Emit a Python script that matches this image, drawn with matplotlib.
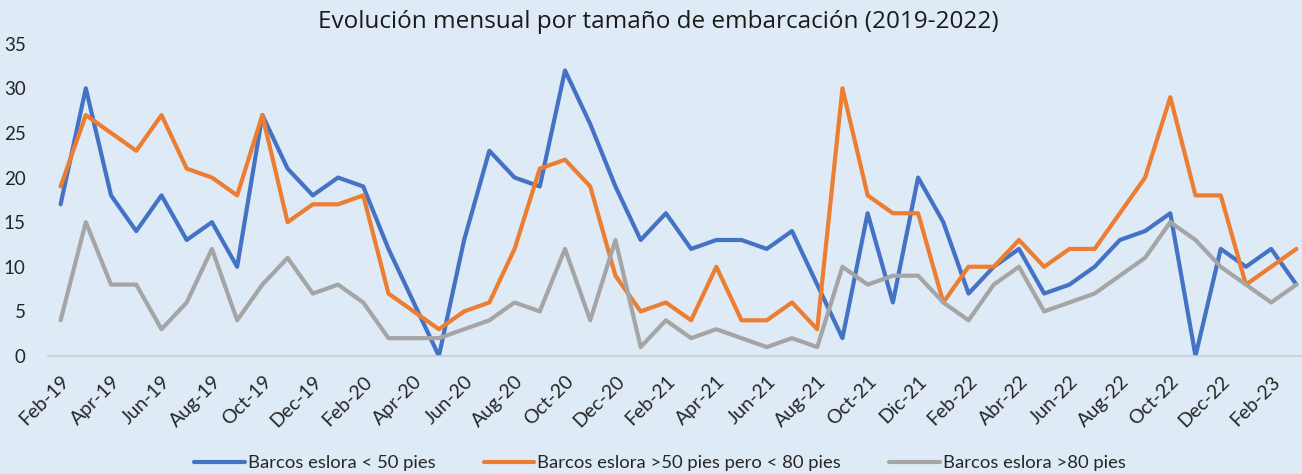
#!/usr/bin/env python3

import numpy as np
import matplotlib
matplotlib.use("Agg")
import matplotlib.pyplot as plt

# monthly data, Feb-19 .. Mar-23
menos_50 = [17, 30, 18, 14, 18, 13, 15, 10, 27, 21, 18, 20, 19, 12, 6, 0,
            13, 23, 20, 19, 32, 26, 19, 13, 16, 12, 13, 13, 12, 14, 8, 2,
            16, 6, 20, 15, 7, 10, 12, 7, 8, 10, 13, 14, 16, 0, 12, 10, 12, 8]
entre_50_80 = [19, 27, 25, 23, 27, 21, 20, 18, 27, 15, 17, 17, 18, 7, 5, 3,
               5, 6, 12, 21, 22, 19, 9, 5, 6, 4, 10, 4, 4, 6, 3, 30,
               18, 16, 16, 6, 10, 10, 13, 10, 12, 12, 16, 20, 29, 18, 18, 8, 10, 12]
mas_80 = [4, 15, 8, 8, 3, 6, 12, 4, 8, 11, 7, 8, 6, 2, 2, 2,
          3, 4, 6, 5, 12, 4, 13, 1, 4, 2, 3, 2, 1, 2, 1, 10,
          8, 9, 9, 6, 4, 8, 10, 5, 6, 7, 9, 11, 15, 13, 10, 8, 6, 8]

tick_labels = ["Feb-19", "Apr-19", "Jun-19", "Aug-19", "Oct-19", "Dec-19",
               "Feb-20", "Apr-20", "Jun-20", "Aug-20", "Oct-20", "Dec-20",
               "Feb-21", "Apr-21", "Jun-21", "Aug-21", "Oct-21", "Dic-21",
               "Feb-22", "Abr-22", "Jun-22", "Aug-22", "Oct-22", "Dec-22",
               "Feb-23"]

series_names = ["Barcos eslora < 50 pies",
                "Barcos eslora >50 pies pero < 80 pies",
                "Barcos eslora >80 pies"]

BG = "#DEEAF6"
COLORS = ["#4472C4", "#ED7D31", "#A5A5A5"]

plt.rcParams["font.family"] = ["Lato", "DejaVu Sans"]

W, H = 1302, 474
fig = plt.figure(figsize=(W / 100, H / 100), dpi=100, facecolor=BG)
ax = fig.add_axes([48 / W, (H - 356) / H, 1261 / W, (356 - 43.7) / H])
ax.set_facecolor(BG)

x = np.arange(len(menos_50))
for values, color, name in zip([menos_50, entre_50_80, mas_80], COLORS, series_names):
    ax.plot(x, values, color=color, linewidth=3.0, label=name,
            solid_joinstyle="round", solid_capstyle="round")

ax.set_xlim(-0.5, len(x) - 0.5)
ax.set_ylim(0, 35)
ax.set_yticks(np.arange(0, 36, 5))

ax.set_xticks(x[::2])
ax.set_xticklabels(tick_labels, rotation=45, ha="right", rotation_mode="anchor",
                   fontsize=14, color="#262626")
ax.tick_params(axis="x", length=0, pad=12)
ax.tick_params(axis="y", length=0, pad=16, labelsize=13.5, labelcolor="#262626")

for side in ["top", "right", "left"]:
    ax.spines[side].set_visible(False)
ax.spines["bottom"].set_color("#C9CED4")
ax.spines["bottom"].set_linewidth(1.2)

fig.text(658 / W, 1 - 22 / H, "Evolución mensual por tamaño de embarcación (2019-2022)",
         ha="center", va="center", fontsize=17.5, family=["Open Sans", "DejaVu Sans"],
         color="#1a1a1a")

fig.legend(loc="center", bbox_to_anchor=(660 / W, 1 - 463 / H), ncol=3,
           frameon=False, fontsize=13.3, handlelength=2.75, handletextpad=0.17,
           columnspacing=2.6, labelcolor="#262626", borderpad=0)

plt.savefig("out.png", dpi=100, facecolor=BG)
